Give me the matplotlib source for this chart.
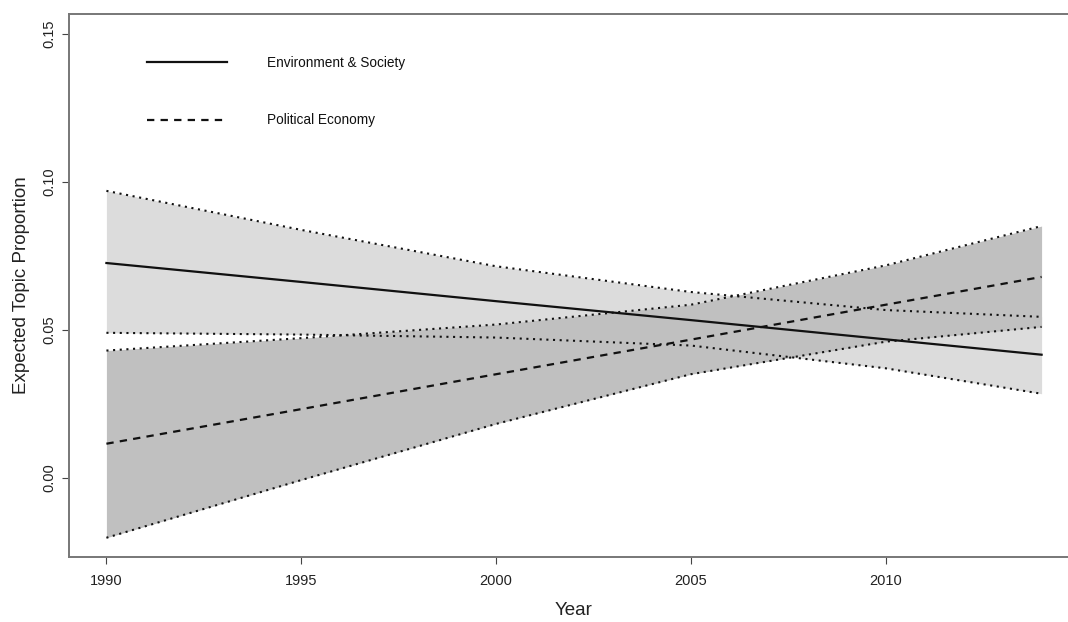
import matplotlib
matplotlib.use("Agg")
import matplotlib.pyplot as plt

years = [1990, 1995, 2000, 2005, 2010, 2014]

es_mean = [0.0726, 0.0662, 0.0597, 0.0533, 0.0468, 0.0416]
es_upper = [0.0970, 0.0838, 0.0715, 0.0628, 0.0567, 0.0544]
es_lower = [0.0490, 0.0484, 0.0474, 0.0447, 0.0370, 0.0284]

pe_mean = [0.0115, 0.0232, 0.0350, 0.0467, 0.0585, 0.0679]
pe_upper = [0.0430, 0.0472, 0.0518, 0.0585, 0.0718, 0.0851]
pe_lower = [-0.0203, -0.0008, 0.0182, 0.0350, 0.0460, 0.0510]

series_labels = ["Environment & Society", "Political Economy"]
x_ticks = [1990, 1995, 2000, 2005, 2010]
y_ticks = [0.00, 0.05, 0.10, 0.15]
y_tick_labels = ["0.00", "0.05", "0.10", "0.15"]

plt.rcParams['font.family'] = ['Liberation Sans', 'DejaVu Sans']

W, H = 1068, 622
fig = plt.figure(figsize=(W / 100, H / 100), dpi=100)
ax = fig.add_axes([69 / W, 65 / H, (1079 - 69) / W, (557 - 14) / H])

ax.fill_between(years, es_lower, es_upper, color='#dcdcdc', linewidth=0, zorder=1)
ax.fill_between(years, pe_lower, pe_upper, color='#c0c0c0', linewidth=0, zorder=2)

dot = (0, (1, 2.2))
for band in (es_upper, es_lower, pe_upper, pe_lower):
    ax.plot(years, band, color='#111111', lw=1.5, linestyle=dot, zorder=3)

l1, = ax.plot(years, es_mean, color='#111111', lw=1.6, linestyle='-', zorder=4,
              label=series_labels[0])
l2, = ax.plot(years, pe_mean, color='#111111', lw=1.6, linestyle=(0, (3.3, 2.8)), zorder=4,
              label=series_labels[1])

ax.set_xlim(1989.04, 2014.96)
ax.set_ylim(-0.0268, 0.1568)

ax.set_xticks(x_ticks)
ax.set_xticklabels([str(v) for v in x_ticks])
ax.set_yticks(y_ticks)
ax.set_yticklabels(y_tick_labels, rotation=90, va='center')

ax.tick_params(axis='both', direction='out', length=5, width=0.8, color='#444444',
               labelsize=10.5, labelcolor='#222222')
ax.tick_params(axis='x', pad=7)
ax.tick_params(axis='y', pad=4)

for side in ['left', 'top', 'bottom']:
    ax.spines[side].set_color('#777777')
    ax.spines[side].set_linewidth(1.4)
ax.spines['right'].set_visible(False)

ax.set_xlabel("Year", fontsize=13.5, color='#222222', labelpad=10)
ax.set_ylabel("Expected Topic Proportion", fontsize=13.5, color='#222222', labelpad=9)

fs = 9.8
ax.legend(handles=[l1, l2], loc='upper left', bbox_to_anchor=(0.0772, 0.923),
          frameon=False, fontsize=fs, borderpad=0, borderaxespad=0,
          handlelength=5.9, handletextpad=2.9, labelspacing=3.2, labelcolor='#111111')

fig.savefig("out.png", dpi=100)
